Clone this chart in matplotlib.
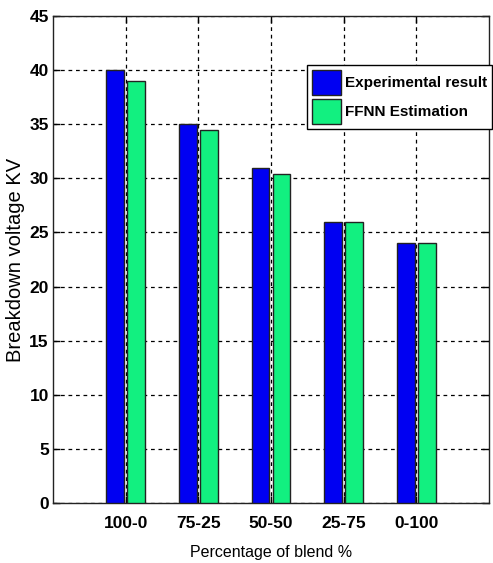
import matplotlib
matplotlib.use("Agg")
import matplotlib.pyplot as plt
import numpy as np

categories = ["100-0", "75-25", "50-50", "25-75", "0-100"]
experimental = [40, 35, 31, 26, 24]
ffnn = [39, 34.5, 30.4, 26, 24]
yticks = [0, 5, 10, 15, 20, 25, 30, 35, 40, 45]

plt.rcParams['font.family'] = ['Liberation Sans', 'DejaVu Sans']

fig = plt.figure(figsize=(4.93, 5.63), dpi=100)
ax = fig.add_axes([53/493, 60/563, (489-53)/493, (503-16)/563])

x = np.arange(1, len(categories) + 1)
w = 0.24
off = 0.145
ax.bar(x - off, experimental, width=w, color='#0000F2', edgecolor='#222222',
       linewidth=1.0, label='Experimental result', zorder=3)
ax.bar(x + off, ffnn, width=w, color='#12F080', edgecolor='#222222',
       linewidth=1.0, label='FFNN Estimation', zorder=3)

ax.set_xlim(0, 6)
ax.set_ylim(0, 45)
ax.set_xticks(x)
ax.set_xticklabels(categories, fontsize=12.5, fontweight='bold')
ax.set_yticks(yticks)
ax.set_yticklabels([str(v) for v in yticks], fontsize=12.5, fontweight='bold')
ax.tick_params(direction='in', length=5, top=True, right=True, width=1)
ax.tick_params(axis='x', pad=9)
ax.tick_params(axis='y', pad=3)
ax.grid(True, color='black', linestyle=(0, (3, 3)), linewidth=0.9, zorder=0)
ax.set_axisbelow(True)
for s in ax.spines.values():
    s.set_linewidth(1.0)
    s.set_color('#222222')

ax.set_xlabel('Percentage of blend %', fontsize=11.5, labelpad=10.5)
ax.set_ylabel('Breakdown voltage KV', fontsize=14.5, labelpad=3)

leg = fig.legend(loc='upper left', bbox_to_anchor=(307/493, 1 - 65/563),
                 bbox_transform=fig.transFigure, fancybox=False, framealpha=1,
                 edgecolor='black', prop={'weight': 'bold', 'size': 11},
                 handlelength=1.95, handleheight=2.14, handletextpad=0.25,
                 borderpad=0.3, labelspacing=0.3, borderaxespad=0)
leg.get_frame().set_linewidth(1.0)

fig.savefig('out.png', dpi=100)
